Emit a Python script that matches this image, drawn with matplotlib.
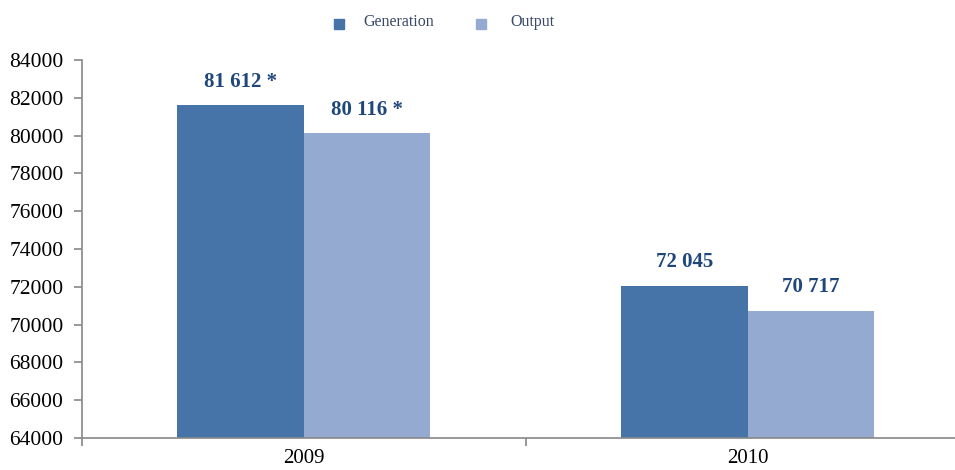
import matplotlib
matplotlib.use("Agg")
import matplotlib.pyplot as plt
from matplotlib.patches import Rectangle
import numpy as np

years = ["2009", "2010"]
series_names = ["Generation", "Output"]
generation = [81612, 72045]
output = [80116, 70717]
gen_labels = ["81 612 *", "72 045"]
out_labels = ["80 116 *", "70 717"]
yticks = list(range(64000, 84001, 2000))

c_gen = "#4674A8"
c_out = "#95AAD1"
c_lab = "#1F477A"
serif = ["Liberation Serif", "DejaVu Serif"]

fig = plt.figure(figsize=(9.55, 4.7), dpi=100)
# axes: left 81.5px, right 969.5px, top 60px, bottom 438px
ax = fig.add_axes([81.5/955, 1-438/470, (969.5-81.5)/955, (438-60)/470])

x = np.arange(len(years))
w = 0.285
ax.bar(x - w/2, generation, w, color=c_gen)
ax.bar(x + w/2, output, w, color=c_out)

ax.set_ylim(64000, 84000)
ax.set_xlim(-0.5, 1.5)
ax.set_yticks(yticks)
ax.set_yticklabels([str(v) for v in yticks], fontfamily=serif, fontsize=15.5)
ax.set_xticks([-0.5, 0.5, 1.5])
ax.set_xticklabels([])
ax.set_xticks(x, minor=True)
ax.set_xticklabels(years, minor=True, fontfamily=serif, fontsize=15)
ax.tick_params(axis="x", which="minor", length=0, pad=8)
ax.tick_params(axis="x", which="major", length=6, color="#888888", width=1.2)
ax.tick_params(axis="y", length=6, color="#888888", width=1.2, pad=7)

for s in ["top", "right"]:
    ax.spines[s].set_visible(False)
for s in ["left", "bottom"]:
    ax.spines[s].set_color("#888888")
    ax.spines[s].set_linewidth(1.2)

for xi, v, lab in zip(x - w/2, generation, gen_labels):
    ax.annotate(lab, (xi, v), xytext=(0, 17), textcoords="offset points",
                ha="center", va="center", fontfamily=serif, fontsize=15,
                fontweight="bold", color=c_lab)
for xi, v, lab in zip(x + w/2, output, out_labels):
    ax.annotate(lab, (xi, v), xytext=(0, 17), textcoords="offset points",
                ha="center", va="center", fontfamily=serif, fontsize=15,
                fontweight="bold", color=c_lab)

# legend
for (sx, tx), name, col in zip([(334, 363), (476, 510)], series_names, [c_gen, c_out]):
    fig.patches.append(Rectangle((sx/955, 1-29/470), 10/955, 10/470,
                                 transform=fig.transFigure, color=col))
    fig.text(tx/955, 1-22/470, name, fontfamily=serif, fontsize=11.5,
             color="#3A4A66", va="center", ha="left")

fig.savefig("out.png", dpi=100)
